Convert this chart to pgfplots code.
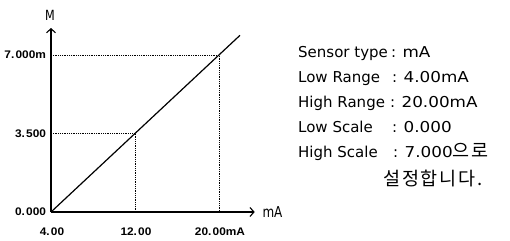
\documentclass[border=0pt]{standalone}
\usepackage{fontspec}
\usepackage{pgfplots}
\pgfplotsset{compat=1.18}
\usetikzlibrary{arrows.meta}
\setmainfont{DejaVu Sans}
\newfontfamily\tickfont{Liberation Sans}[FakeStretch=1.08]
\newfontfamily\valfont{DejaVu Sans}[FakeStretch=1.12]
\newfontfamily\narrowfont{DejaVu Sans}[FakeStretch=0.8]
\newfontfamily\kr{Noto Sans CJK KR}[LetterSpace=10]
\newcommand{\dt}{.\kern1.2bp}
\begin{document}
\begin{tikzpicture}
\useasboundingbox (0,0) rectangle (510bp,-241bp);
\begin{axis}[
  at={(51bp,-212bp)}, anchor=south west,
  scale only axis, width=203.7bp, height=184bp,
  xmin=4, xmax=23.4, ymin=0, ymax=8.2,
  axis lines=left,
  axis line style={line width=1.3bp, -{Straight Barb[length=4bp,width=9bp,line width=1.1bp]}},
  xtick={4,12,20}, xticklabels={4\dt00,12\dt00,20\dt00mA},
  ytick={0,3.5,7}, yticklabels={0\dt000,3\dt500,7\dt000m},
  major tick length=0pt,
  xticklabel style={anchor=center, xshift=1bp, yshift=-20bp, font=\tickfont\bfseries\fontsize{11bp}{12bp}\selectfont},
  yticklabel style={anchor=east, xshift=-1.5bp, font=\tickfont\bfseries\fontsize{11bp}{12bp}\selectfont},
  clip=false,
]
\addplot[black, line width=1.2bp] coordinates {(4,0) (22,7.875)};
\addplot[black, densely dotted, line width=0.8bp] coordinates {(4,7) (20,7) (20,0)};
\addplot[black, densely dotted, line width=0.8bp] coordinates {(4,3.5) (12,3.5) (12,0)};
\end{axis}
\node[font=\narrowfont\fontsize{14bp}{16bp}\selectfont] at (50bp,-15bp) {M};
\node[font=\narrowfont\fontsize{15bp}{17bp}\selectfont, anchor=west] at (259bp,-212bp) {mA};
\begin{scope}[every node/.style={font=\fontsize{15bp}{18bp}\selectfont, inner sep=0pt, anchor=base west}]
\node at (298bp,-57bp) {Sensor type};
\node at (391bp,-57bp) {: {\valfont mA}};
\node at (298bp,-82bp) {Low Range};
\node at (392bp,-82bp) {: {\valfont 4.00mA}};
\node at (298bp,-107bp) {High Range};
\node at (390bp,-107bp) {: {\valfont 20.00mA}};
\node at (298bp,-132bp) {Low Scale};
\node at (392bp,-132bp) {: {\valfont 0.000}};
\node at (298bp,-157bp) {High Scale};
\node at (393bp,-157bp) {: {\valfont 7.000}{\kr\fontsize{18.5bp}{20bp}\selectfont 으로}};
\node at (383bp,-185bp) {{\kr\fontsize{18.5bp}{20bp}\selectfont 설정합니다.}};
\end{scope}
\end{tikzpicture}
\end{document}
